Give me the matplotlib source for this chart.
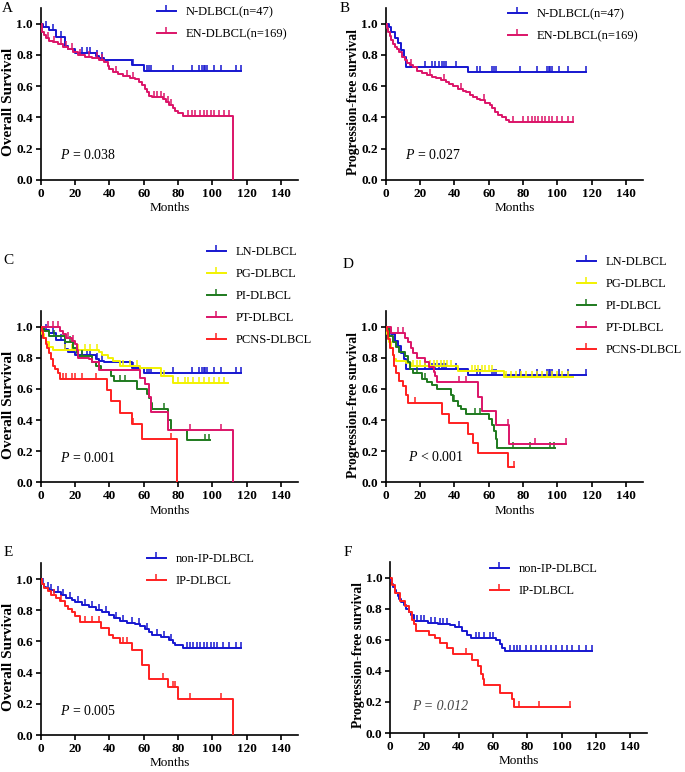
import numpy as np
import matplotlib
matplotlib.use("Agg")
import matplotlib.pyplot as plt
from matplotlib.lines import Line2D

plt.rcParams["font.family"] = ["Liberation Serif", "DejaVu Serif"]
plt.rcParams["mathtext.fontset"] = "custom"
plt.rcParams["mathtext.rm"] = "Liberation Serif"
plt.rcParams["mathtext.it"] = "Liberation Serif:italic"

# colours used by the groups
BLUE = "#1616D0"
PINK = "#DC1468"
RED = "#FF2020"
YELLOW = "#F2F200"
GREEN = "#1E7A1E"

# ---- A: OS, nodal vs extranodal ----
a_n_t = [1.5, 5, 9, 14, 16, 20, 32, 34, 37, 53, 60]
a_n_s = [0.98, 0.96, 0.915, 0.855, 0.835, 0.815, 0.795, 0.78, 0.77, 0.735, 0.70]
a_n_c = [3, 7, 12, 24, 27, 29, 33, 36, 54, 62, 63, 64, 77, 88, 92, 94, 95, 96, 97, 101, 105, 114, 117]
a_n_end = 117

a_en_t = [0.5, 1, 2, 3, 5, 7, 10, 13, 16, 19, 22, 26, 30, 34, 37, 39, 40, 42, 45, 48, 52, 55,
          57, 59, 61, 62, 63, 65, 71, 73, 75, 77, 78, 80, 83, 112]
a_en_s = [0.97, 0.95, 0.93, 0.91, 0.89, 0.88, 0.87, 0.85, 0.84, 0.82, 0.80, 0.79, 0.78, 0.77, 0.755,
          0.73, 0.71, 0.69, 0.68, 0.665, 0.655, 0.645, 0.625, 0.61, 0.585, 0.56, 0.54, 0.53, 0.52,
          0.50, 0.48, 0.46, 0.44, 0.43, 0.41, 0.0]
a_en_c = [4, 8, 12, 15, 18, 23, 28, 33, 36, 44, 50, 54, 66, 68, 70, 72, 74, 76, 86, 88, 90, 93,
          95, 97, 99, 101, 104, 107, 110]
a_en_end = 112

# ---- B: PFS, nodal vs extranodal ----
b_n_t = [2, 3.3, 5.2, 7.2, 9, 10.5, 11.6, 48]
b_n_s = [0.98, 0.95, 0.91, 0.875, 0.83, 0.79, 0.725, 0.69]
b_n_c = [23, 27, 29, 31, 33, 34, 35, 41, 53, 55, 62, 63, 64, 78, 88, 94, 95, 96, 97, 101, 106, 117]
b_n_end = 117

b_en_t = [0.5, 1.4, 2.3, 3.3, 4.2, 5.2, 6.5, 8, 9.5, 11, 12.5, 14, 16, 18, 21, 24, 27, 29.5, 32,
          35, 37, 39, 42, 45, 47, 49, 51, 53, 55, 58, 60.5, 62, 63.5, 65.4, 68, 70, 72]
b_en_s = [0.97, 0.95, 0.92, 0.895, 0.87, 0.85, 0.835, 0.82, 0.79, 0.767, 0.75, 0.735, 0.72, 0.70,
          0.685, 0.67, 0.66, 0.65, 0.64, 0.63, 0.615, 0.60, 0.585, 0.57, 0.56, 0.545, 0.53, 0.52,
          0.51, 0.495, 0.48, 0.46, 0.435, 0.415, 0.40, 0.385, 0.37]
b_en_c = [15, 26, 34, 44, 57, 74, 80, 83, 85, 87, 89, 91, 93, 95, 97, 100, 103, 106, 109]
b_en_end = 109

# ---- C: OS by primary site ----
c_pg_t = [0.5, 1, 2, 3, 5, 7, 34, 36, 39, 42, 46, 58, 70, 77]
c_pg_s = [0.97, 0.95, 0.93, 0.90, 0.87, 0.85, 0.835, 0.82, 0.80, 0.78, 0.75, 0.735, 0.68, 0.635]
c_pg_c = [14, 18, 22, 26, 29, 33, 48, 52, 56, 72, 80, 84, 86, 89, 92, 95, 98, 101, 104, 107]
c_pg_end = 109

c_pi_t = [2, 5, 14, 19, 21, 22, 30, 32, 35, 41, 43, 56, 62, 63, 64, 65, 74, 76, 85]
c_pi_s = [0.97, 0.94, 0.90, 0.86, 0.83, 0.81, 0.77, 0.75, 0.72, 0.68, 0.65, 0.60, 0.57, 0.54,
          0.51, 0.47, 0.40, 0.335, 0.27]
c_pi_c = [8, 17, 24, 46, 49, 72, 96, 98]
c_pi_end = 98.5

c_pt_t = [11, 13, 15, 18, 20, 21, 22, 28, 30, 34, 58, 61, 63, 64, 74, 112]
c_pt_s = [0.97, 0.95, 0.93, 0.91, 0.89, 0.85, 0.80, 0.79, 0.77, 0.72, 0.67, 0.63, 0.55, 0.45, 0.335, 0.0]
c_pt_c = [4, 7, 10, 16, 19, 87, 105]
c_pt_end = 112

c_pcns_t = [0.5, 1.5, 3, 3.5, 5, 6, 7, 8.5, 10, 11, 38.5, 41, 46, 53, 59, 79.5]
c_pcns_s = [0.97, 0.93, 0.89, 0.86, 0.83, 0.79, 0.75, 0.73, 0.70, 0.665, 0.59, 0.52, 0.445, 0.375, 0.28, 0.0]
c_pcns_c = [13, 15, 18, 20, 24, 32, 54, 76]
c_pcns_end = 79.5

# ---- D: PFS by primary site ----
d_pg_t = [1, 2, 3, 4, 5, 6, 12, 15, 42, 69]
d_pg_s = [0.95, 0.90, 0.86, 0.82, 0.79, 0.78, 0.765, 0.75, 0.715, 0.675]
d_pg_c = [16, 18, 20, 23, 26, 28, 30, 32, 34, 36, 38, 50, 52, 54, 56, 58, 60, 62, 70, 73, 76, 79,
          82, 85, 88, 91, 94, 97, 100, 103, 106]
d_pg_end = 109

d_pi_t = [2, 4, 6, 8, 11, 13, 14, 16, 21, 24, 27, 30, 38, 39, 42, 44, 47, 60, 62, 63, 64, 65]
d_pi_s = [0.94, 0.90, 0.87, 0.84, 0.81, 0.77, 0.73, 0.70, 0.665, 0.645, 0.625, 0.60, 0.56, 0.52,
          0.49, 0.47, 0.44, 0.41, 0.37, 0.33, 0.28, 0.22]
d_pi_c = [18, 23, 40, 52, 55, 74, 84, 96, 98]
d_pi_end = 98.5

d_pt_t = [3, 11, 13, 15, 16, 18, 23, 25, 28, 29, 30, 54, 56, 64, 72]
d_pt_s = [0.96, 0.93, 0.90, 0.86, 0.83, 0.80, 0.77, 0.74, 0.71, 0.68, 0.645, 0.55, 0.46, 0.37, 0.245]
d_pt_c = [7, 10, 43, 47, 71, 87, 105]
d_pt_end = 105

d_pcns_t = [0.5, 1.5, 2.5, 4, 5, 6, 8, 10, 12, 13, 33, 37, 48, 51, 54, 71]
d_pcns_s = [0.97, 0.92, 0.86, 0.82, 0.75, 0.70, 0.65, 0.62, 0.56, 0.51, 0.44, 0.38, 0.31, 0.25, 0.19, 0.10]
d_pcns_c = [17, 75]
d_pcns_end = 75

# ---- E: OS, IP vs non-IP ----
e_non_t = [0.5, 1, 2, 3, 5, 8, 12, 15, 18, 20, 24, 28, 32, 36, 40, 43, 46, 50, 55, 58, 61, 63,
           65, 70, 75, 77, 78, 83]
e_non_s = [0.98, 0.965, 0.95, 0.94, 0.93, 0.915, 0.90, 0.88, 0.865, 0.85, 0.835, 0.82, 0.80, 0.79,
           0.77, 0.75, 0.73, 0.72, 0.71, 0.70, 0.68, 0.66, 0.64, 0.63, 0.61, 0.59, 0.575, 0.555]
e_non_c = [1.5, 4, 6, 10, 13, 17, 22, 26, 30, 34, 38, 44, 48, 53, 57, 62, 68, 72, 76, 85, 87, 89,
           91, 93, 95, 97, 99, 101, 103, 106, 110, 114, 117]
e_non_end = 117

e_ip_t = [1, 2, 4, 6, 9, 11, 14, 16, 18, 20, 23, 35, 40, 42, 46, 53, 59, 63, 74, 80, 112]
e_ip_s = [0.97, 0.94, 0.92, 0.90, 0.88, 0.86, 0.83, 0.81, 0.79, 0.76, 0.725, 0.685, 0.64, 0.62,
          0.59, 0.545, 0.45, 0.36, 0.31, 0.23, 0.0]
e_ip_c = [8, 12, 26, 30, 34, 48, 50, 71, 77, 78, 87, 105]
e_ip_end = 112

# ---- F: PFS, IP vs non-IP ----
f_non_t = [0.5, 1, 2, 2.7, 3.5, 4.7, 5.5, 6.6, 8, 9.6, 11, 12.5, 14, 22, 28, 35, 38, 42, 45, 47,
           62, 64, 65, 67]
f_non_s = [0.98, 0.96, 0.94, 0.92, 0.90, 0.88, 0.86, 0.845, 0.825, 0.80, 0.78, 0.76, 0.72, 0.71,
           0.70, 0.695, 0.68, 0.66, 0.63, 0.61, 0.60, 0.575, 0.55, 0.53]
f_non_c = [16, 18, 20, 24, 26, 29, 31, 33, 40, 50, 52, 55, 58, 60, 70, 72, 74, 76, 79, 82, 85, 88,
           91, 94, 97, 100, 103, 106, 110, 114, 118]
f_non_end = 118

f_ip_t = [1, 3, 6, 9, 11, 13, 14, 15, 23, 26, 29, 33, 37, 48, 51, 53, 54, 55, 64, 71, 72]
f_ip_s = [0.95, 0.90, 0.85, 0.82, 0.78, 0.73, 0.70, 0.66, 0.63, 0.61, 0.58, 0.55, 0.51, 0.47,
          0.43, 0.38, 0.35, 0.31, 0.26, 0.22, 0.17]
f_ip_c = [44, 75, 87, 105]
f_ip_end = 105

W, H = 685, 772
fig = plt.figure(figsize=(W / 100, H / 100), dpi=100)


def px_axes(x0, y_bottom, y_one):
    # axes box from pixel positions of x=0, y=0 and y=1.0
    h = (y_bottom - y_one) * 1.1
    w = 150 * 1.716
    return fig.add_axes([x0 / W, (H - y_bottom) / H, w / W, h / H])


def km(ax, t, s, cens, end, color):
    x = [0] + list(t) + [end]
    y = [1.0] + list(s) + [s[-1]]
    ax.step(x, y, where="post", color=color, lw=1.4, zorder=3)
    tt = np.array(t)
    ss = np.array(s)
    cy = []
    for c in cens:
        idx = np.searchsorted(tt, c, side="right") - 1
        cy.append(1.0 if idx < 0 else ss[idx])
    ax.plot(cens, cy, ls="none", marker=2, ms=4, mew=1.1, color=color, zorder=3)


def style(ax, ylab, ptext, px, py, italic_all=False):
    ax.set_xlim(0, 150)
    ax.set_ylim(0, 1.1)
    ax.set_xticks(np.arange(0, 141, 20))
    ax.set_yticks(np.arange(0, 1.01, 0.2))
    ax.set_yticklabels([f"{v:.1f}" for v in np.arange(0, 1.01, 0.2)])
    for sp in ["top", "right"]:
        ax.spines[sp].set_visible(False)
    for sp in ["left", "bottom"]:
        ax.spines[sp].set_linewidth(1.2)
    ax.tick_params(direction="out", length=3.5, width=1.2, labelsize=9.5, pad=2)
    for lab in ax.get_xticklabels() + ax.get_yticklabels():
        lab.set_fontweight("bold")
    ax.set_xlabel("Months", fontsize=9.5, labelpad=2)
    ax.set_ylabel(ylab, fontsize=11 if ylab == OS else 9.8, fontweight="bold")
    ax.yaxis.set_label_coords(-0.098, 0.5 / 1.1)
    if italic_all:
        ax.text(px, py, "P = 0.012", fontsize=10, style="italic", color="#444444", va="center")
    else:
        ax.text(px, py, ptext, fontsize=10, va="center")


def legend(ax, items, x, y):
    handles = [Line2D([], [], color=c, lw=1.4, marker=2, ms=4, mew=1.1) for c, _ in items]
    labels = [l for _, l in items]
    ax.legend(handles, labels, loc="upper left", bbox_to_anchor=(x / W, 1 - y / H),
              bbox_transform=fig.transFigure, frameon=False, fontsize=9, borderpad=0,
              borderaxespad=0, handlelength=1.5, handletextpad=0.8, labelspacing=0.8,
              numpoints=1)


OS = "Overall Survival"
PFS = "Progression-free survival"

# A
ax = px_axes(40.7, 180, 23.7)
km(ax, a_n_t, a_n_s, a_n_c, a_n_end, BLUE)
km(ax, a_en_t, a_en_s, a_en_c, a_en_end, PINK)
style(ax, OS, r"$\mathit{P}$ = 0.038", 11.2, 0.16)
legend(ax, [(BLUE, "N-DLBCL(n=47)"), (PINK, "EN-DLBCL(n=169)")], 157, 6)

# B
ax = px_axes(385.7, 180, 23.7)
km(ax, b_n_t, b_n_s, b_n_c, b_n_end, BLUE)
km(ax, b_en_t, b_en_s, b_en_c, b_en_end, PINK)
style(ax, PFS, r"$\mathit{P}$ = 0.027", 11.5, 0.16)
legend(ax, [(BLUE, "N-DLBCL(n=47)"), (PINK, "EN-DLBCL(n=169)")], 508, 8)

site_items = [(BLUE, "LN-DLBCL"), (YELLOW, "PG-DLBCL"), (GREEN, "PI-DLBCL"),
              (PINK, "PT-DLBCL"), (RED, "PCNS-DLBCL")]

# C
ax = px_axes(40.7, 482.3, 326.7)
km(ax, a_n_t, a_n_s, a_n_c, a_n_end, BLUE)
km(ax, c_pg_t, c_pg_s, c_pg_c, c_pg_end, YELLOW)
km(ax, c_pi_t, c_pi_s, c_pi_c, c_pi_end, GREEN)
km(ax, c_pt_t, c_pt_s, c_pt_c, c_pt_end, PINK)
km(ax, c_pcns_t, c_pcns_s, c_pcns_c, c_pcns_end, RED)
style(ax, OS, r"$\mathit{P}$ = 0.001", 11.2, 0.155)
legend(ax, site_items, 207, 246)

# D
ax = px_axes(385.7, 482.3, 326.7)
km(ax, b_n_t, b_n_s, b_n_c, b_n_end, BLUE)
km(ax, d_pg_t, d_pg_s, d_pg_c, d_pg_end, YELLOW)
km(ax, d_pi_t, d_pi_s, d_pi_c, d_pi_end, GREEN)
km(ax, d_pt_t, d_pt_s, d_pt_c, d_pt_end, PINK)
km(ax, d_pcns_t, d_pcns_s, d_pcns_c, d_pcns_end, RED)
style(ax, PFS, r"$\mathit{P}$ < 0.001", 13, 0.16)
legend(ax, site_items, 577, 256)

# E
ax = px_axes(40.7, 735, 579)
km(ax, e_non_t, e_non_s, e_non_c, e_non_end, BLUE)
km(ax, e_ip_t, e_ip_s, e_ip_c, e_ip_end, RED)
style(ax, OS, r"$\mathit{P}$ = 0.005", 11.2, 0.154)
legend(ax, [(BLUE, "non-IP-DLBCL"), (RED, "IP-DLBCL")], 147, 553)

# F
ax = px_axes(390, 733, 577.7)
km(ax, f_non_t, f_non_s, f_non_c, f_non_end, BLUE)
km(ax, f_ip_t, f_ip_s, f_ip_c, f_ip_end, RED)
style(ax, PFS, "", 12.7, 0.17, italic_all=True)
legend(ax, [(BLUE, "non-IP-DLBCL"), (RED, "IP-DLBCL")], 490, 563)

# panel letters
for letter, x, y in [("A", 7, 8), ("B", 345, 8), ("C", 8, 260), ("D", 348, 265),
                     ("E", 8, 553), ("F", 348, 553)]:
    fig.text(x / W, 1 - y / H, letter, fontsize=11, ha="center", va="center")

fig.savefig("out.png", dpi=100)
